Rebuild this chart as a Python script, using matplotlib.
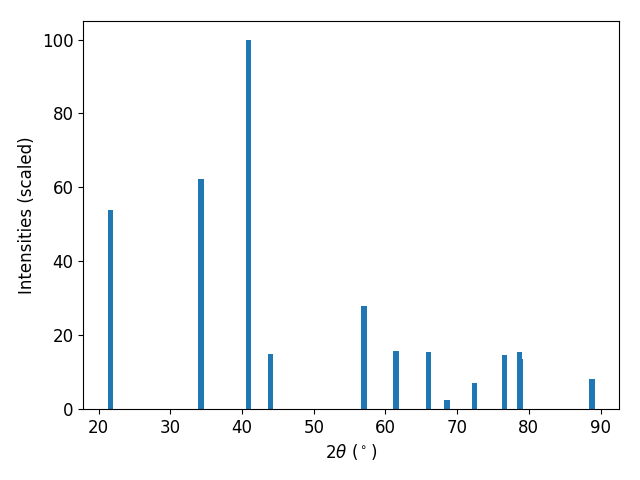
import matplotlib

matplotlib.use("Agg")
import matplotlib.pyplot as plt

# peak positions (2theta, degrees) and scaled intensities
two_theta = [21.63, 34.30, 40.90, 43.95, 57.00, 61.50, 66.00, 68.55,
             72.40, 76.60, 78.70, 78.85, 88.76]
intensity = [53.9, 62.3, 100.0, 15.0, 27.9, 15.7, 15.4, 2.4,
             6.9, 14.7, 15.3, 13.6, 8.2]

plt.rcParams["font.size"] = 12

fig, ax = plt.subplots(figsize=(6.4, 4.8), dpi=100)
ax.bar(two_theta, intensity)
ax.set_xlabel(r"2$\theta$ ($^\circ$)")
ax.set_ylabel("Intensities (scaled)")
fig.subplots_adjust(left=0.130, right=0.967, top=0.956, bottom=0.148)
fig.savefig("out.png")
